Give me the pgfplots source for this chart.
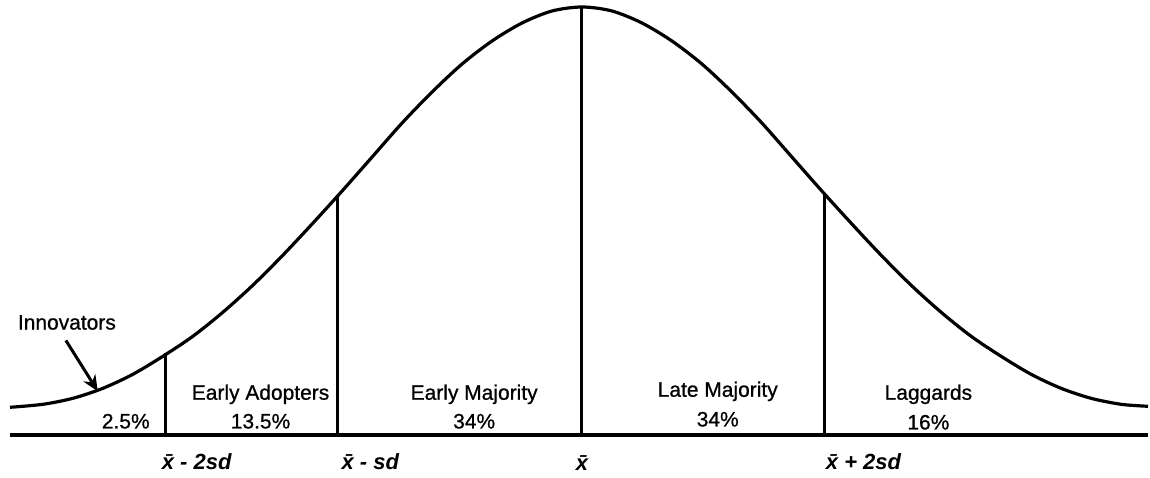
\documentclass[border=0pt]{standalone}
\usepackage{fontspec}
\setmainfont{Liberation Sans}
\usepackage{pgfplots}
\pgfplotsset{compat=1.18}
\usetikzlibrary{arrows.meta}

\newfontfamily\lblfont[FakeBold=0.8]{Liberation Sans}
\tikzset{
    lbl/.style={font=\lblfont\fontsize{10.5}{12}\selectfont, align=center},
    sdl/.style={font=\fontsize{11}{13}\selectfont\bfseries\itshape},
}

% bell curve (x in px, y = height above the base line in px)
\pgfplotstableread{
x     y
10    28
43    31
73    37
103   47
133   61
163   79
193   99
223   123
253   150
283   180
313   212
343   245
373   279
403   313
433   344
463   372
493   395
523   413
553   425
583   429
613   425
643   413
673   395
703   372
733   344
763   313
793   279
823   245
853   212
883   180
913   150
943   123
973   99
1003  79
1033  61
1063  47
1093  37
1123  31
1150  29
}\curvedata

\begin{document}
\begin{tikzpicture}
\begin{axis}[
    width=575pt, height=238pt,
    scale only axis,
    xmin=0, xmax=1150,
    ymin=-40, ymax=436,
    hide axis,
    clip=false,
]
\path (axis cs:0,-40) rectangle (axis cs:1150,436);

% base line
\addplot[black, line width=2pt] coordinates {(10,0) (1150,0)};

% curve
\addplot[black, line width=1.6pt, smooth] table[x=x, y=y] {\curvedata};

% dividing lines
\addplot[black, line width=1.5pt] coordinates {(166,0) (166,82)};
\addplot[black, line width=1.5pt] coordinates {(338,0) (338,240)};
\addplot[black, line width=1.5pt] coordinates {(583,0) (583,429)};
\addplot[black, line width=1.5pt] coordinates {(826,0) (826,242)};

% labels
\node[lbl] at (axis cs:67,113) {Innovators};
\draw[black, line width=1.5pt, -{Stealth[length=8pt, width=7pt]}] (axis cs:66,95) -- (axis cs:98,44);
\node[lbl] at (axis cs:126,14) {2.5\%};
\node[lbl] at (axis cs:261,41) {Early Adopters};
\node[lbl] at (axis cs:261,14) {13.5\%};
\node[lbl] at (axis cs:475,41) {Early Majority};
\node[lbl] at (axis cs:475,14) {34\%};
\node[lbl] at (axis cs:719,44) {Late Majority};
\node[lbl] at (axis cs:719,16) {34\%};
\node[lbl] at (axis cs:930,41) {Laggards};
\node[lbl] at (axis cs:930,13) {16\%};

\node[sdl] at (axis cs:197,-26) {\=x - 2sd};
\node[sdl] at (axis cs:371,-26) {\=x - sd};
\node[sdl] at (axis cs:583,-28) {\=x};
\node[sdl] at (axis cs:865,-26) {\=x + 2sd};
\end{axis}
\end{tikzpicture}
\end{document}
